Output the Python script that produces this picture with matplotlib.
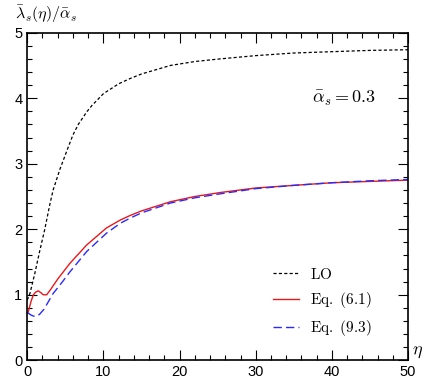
"""Ratio lambda_s(eta)/alpha_s vs eta: LO against two approximations."""
import matplotlib
matplotlib.use("Agg")
import matplotlib.pyplot as plt
import numpy as np

plt.rcParams["mathtext.fontset"] = "cm"
plt.rcParams["font.family"] = ["Liberation Sans", "DejaVu Sans"]

# values
eta_lo = [0.0, 0.35, 1.0, 1.6, 2.3, 3.0, 3.4, 4.3, 5.4, 6.0, 6.7, 7.8, 8.5,
          10.0, 12.0, 13.5, 15.0, 18.8, 22.0, 25.3, 30.0, 35.0, 40.0, 45.0, 50.0]
lam_lo = [0.92, 1.02, 1.33, 1.65, 2.00, 2.40, 2.60, 2.92, 3.26, 3.44, 3.60, 3.79,
          3.89, 4.07, 4.22, 4.30, 4.37, 4.50, 4.56, 4.60, 4.65, 4.69, 4.71,
          4.73, 4.74]

eta_61 = [0.0, 0.13, 0.5, 0.8, 1.1, 1.45, 1.8, 2.1, 2.55, 3.0, 4.0, 5.6, 7.8,
          10.4, 12.2, 13.5, 15.0, 18.8, 22.0, 25.3, 30.0, 35.0, 40.0, 45.0, 50.0]
lam_61 = [0.72, 0.74, 0.90, 1.00, 1.04, 1.06, 1.03, 1.00, 1.00, 1.07, 1.24, 1.48,
          1.76, 2.02, 2.14, 2.21, 2.28, 2.42, 2.50, 2.56, 2.63, 2.67, 2.71, 2.73,
          2.75]

eta_93 = [0.0, 0.13, 0.5, 0.8, 1.15, 1.6, 2.2, 3.4, 4.5, 5.6, 7.8, 10.4, 12.2,
          13.5, 15.0, 18.8, 22.0, 25.3, 30.0, 35.0, 40.0, 45.0, 50.0]
lam_93 = [0.73, 0.72, 0.69, 0.675, 0.67, 0.70, 0.78, 1.02, 1.18, 1.35, 1.66, 1.94,
          2.09, 2.17, 2.25, 2.40, 2.48, 2.54, 2.62, 2.67, 2.71, 2.74, 2.76]

fig = plt.figure(figsize=(4.26, 3.86), dpi=100)
ax = fig.add_axes([0.064, 0.0666, 0.894, 0.8487])

ax.plot(eta_lo, lam_lo, color="black", lw=0.9, dashes=(2.5, 1.8), label=r"$\rm LO$")
ax.plot(eta_61, lam_61, color="#e8191c", lw=1.0, label=r"$\rm Eq.\ (6.1)$")
ax.plot(eta_93, lam_93, color="#2a2aff", lw=1.0, dashes=(6, 3),
        label=r"$\rm Eq.\ (9.3)$")

ax.set_xlim(0, 50)
ax.set_ylim(0, 5)
ax.set_xticks(np.arange(0, 51, 10))
ax.set_xticks(np.arange(0, 51, 2), minor=True)
ax.set_yticks(np.arange(0, 6, 1))
ax.set_yticks(np.arange(0, 5.01, 0.2), minor=True)
ax.tick_params(which="both", direction="in", top=True, right=True,
               labelsize=10.5, width=0.8)
ax.tick_params(which="major", length=7)
ax.tick_params(which="minor", length=3.5)
for s in ax.spines.values():
    s.set_linewidth(1.2)

ax.text(-0.032, 1.025, r"$\bar\lambda_s(\eta)/\bar\alpha_s$", transform=ax.transAxes,
        fontsize=11.5, ha="left", va="bottom")
ax.text(1.01, -0.0, r"$\eta$", transform=ax.transAxes, fontsize=13,
        ha="left", va="bottom")
ax.text(0.833, 0.80, r"$\bar\alpha_s = 0.3$", transform=ax.transAxes,
        fontsize=13, ha="center", va="center")

leg = ax.legend(loc="lower right", bbox_to_anchor=(0.94, 0.025), frameon=False,
                fontsize=11, handlelength=1.7, labelspacing=0.55,
                handletextpad=0.7)

fig.savefig("out.png", dpi=100)
